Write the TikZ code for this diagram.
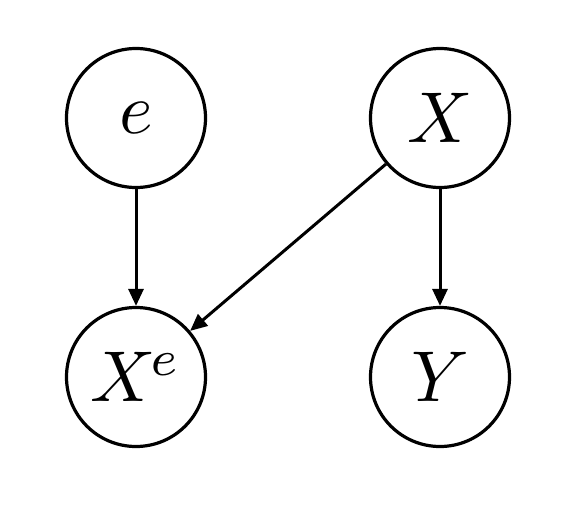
\documentclass[tikz,border=0pt]{standalone}
\usepackage{graphicx}
\usetikzlibrary{arrows.meta}
\newcommand{\bigmathtxt}[1]{\scalebox{7.2}{$#1$}}
\begin{document}
\begin{tikzpicture}[x=1pt,y=-1pt,
  var/.style={draw,circle,line width=3.2pt,minimum size=139pt,inner sep=0pt},
  edge/.style={line width=3pt,-{Triangle[length=17pt,width=15pt]}}]
\useasboundingbox (0,0) rectangle (568,504);
\node[var] (e) at (136,118) {\bigmathtxt{e}};
\node[var] (X) at (440,118) {\bigmathtxt{X}};
\node[var] (Xe) at (136,377) {\bigmathtxt{X^{\mkern-1.5mu e}}};
\node[var] (Y) at (440,377) {\bigmathtxt{Y}};
\draw[edge] (e) -- (Xe);
\draw[edge] (X) -- (Xe);
\draw[edge] (X) -- (Y);
\end{tikzpicture}
\end{document}
